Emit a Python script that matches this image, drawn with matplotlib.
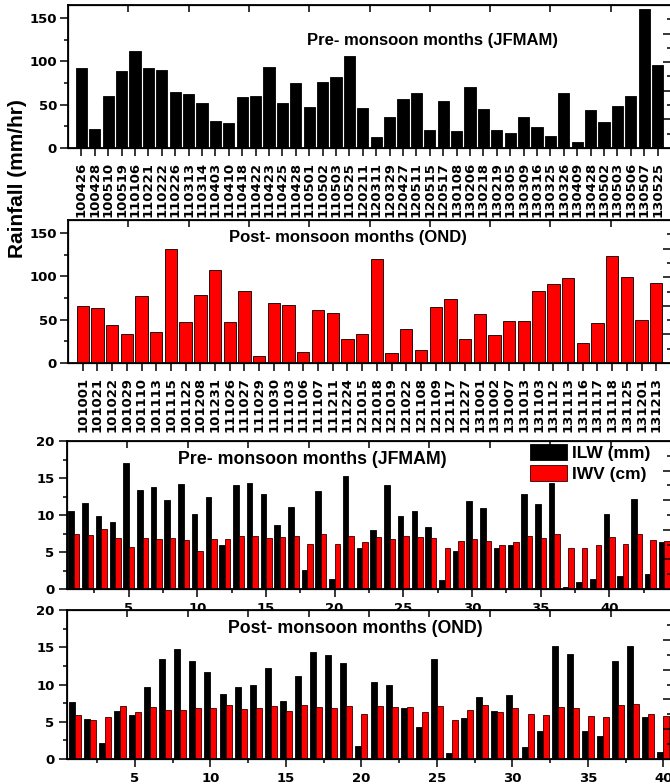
import numpy as np
import matplotlib
matplotlib.use('Agg')
import matplotlib.pyplot as plt
from matplotlib.ticker import MultipleLocator

# rainfall events, pre-monsoon (JFMAM) and post-monsoon (OND)
pre_dates = ['100426', '100428', '100510', '100519', '110106', '110221', '110222', '110226',
             '110313', '110314', '110403', '110410', '110418', '110422', '110423', '110425',
             '110428', '110501', '110502', '110503', '110525', '120211', '120311', '120329',
             '120427', '120511', '120515', '120517', '130108', '130206', '130218', '130219',
             '130305', '130309', '130316', '130325', '130326', '130409', '130428', '130502',
             '130503', '130506', '130507', '130525']
pre_rain = [92, 21.5, 60, 89, 111.5, 92.5, 89.5, 65, 62, 52, 31.5, 29, 58.5, 60, 94, 52,
            75, 47, 76.5, 82, 106, 46.5, 12.5, 36, 56, 63.5, 21, 54, 20, 70, 45, 21,
            17.5, 36, 24.5, 14, 64, 7.5, 44, 29.5, 48.5, 60.5, 160.5, 96]

post_dates = ['101001', '101021', '101022', '101029', '101110', '101113', '101115', '101122',
              '101208', '101231', '111026', '111027', '111029', '111030', '111103', '111106',
              '111107', '111211', '111224', '121015', '121018', '121019', '121022', '121108',
              '121109', '121117', '121227', '131001', '131002', '131007', '131013', '131103',
              '131112', '131113', '131116', '131117', '131118', '131125', '131201', '131213']
post_rain = [65.5, 64, 43.5, 34, 77.5, 35.5, 131, 47.5, 78, 107.5, 47, 83, 8.5, 69, 67, 12.5,
             61, 57.5, 27.5, 33.5, 120, 11.5, 39, 15, 64.5, 74, 27.5, 56.5, 32, 48.5, 49, 83,
             91.5, 98, 23, 46, 123, 99, 50, 92.5]

# ILW (mm) / IWV (cm) for the same events
pre_ilw = [10.6, 11.6, 9.8, 9.0, 17.0, 13.4, 13.8, 12.0, 14.2, 10.1, 12.5, 6.0, 14.1, 14.3, 12.8,
           8.6, 11.1, 2.6, 13.2, 1.3, 15.3, 5.6, 8.0, 14.0, 9.9, 10.6, 8.4, 1.2, 5.1, 11.9,
           11.0, 5.6, 6.0, 12.9, 11.5, 14.3, 0.3, 1.0, 1.4, 10.2, 1.8, 12.1, 2.0, 6.4]
pre_iwv = [7.5, 7.3, 8.1, 6.9, 5.7, 6.9, 6.8, 6.9, 6.6, 5.1, 6.8, 6.8, 7.2, 7.2, 6.9,
           7.0, 7.1, 6.1, 7.4, 6.1, 7.1, 6.4, 7.0, 6.8, 7.2, 7.0, 6.9, 5.6, 6.5, 6.8,
           6.5, 6.0, 6.4, 7.2, 6.9, 7.4, 5.5, 5.6, 5.9, 7.0, 6.1, 7.5, 6.6, 6.5]
post_ilw = [7.7, 5.4, 2.2, 6.5, 5.9, 9.7, 13.4, 14.8, 13.2, 11.7, 8.7, 9.6, 9.9, 12.2, 7.8,
            11.2, 14.4, 13.9, 12.9, 1.7, 10.4, 9.9, 6.8, 4.3, 13.4, 0.8, 5.5, 8.3, 6.5, 8.6,
            1.6, 3.8, 15.2, 14.1, 3.7, 3.1, 13.2, 15.2, 5.6, 0.9]
post_iwv = [5.9, 5.2, 5.7, 7.1, 6.3, 7.0, 6.6, 6.6, 6.9, 6.9, 7.2, 6.7, 6.8, 7.1, 6.5,
            7.2, 7.0, 6.9, 7.1, 6.1, 7.1, 7.0, 7.0, 6.3, 7.1, 5.2, 6.6, 7.2, 6.3, 6.9,
            6.1, 5.9, 7.0, 6.8, 5.8, 5.6, 7.3, 7.4, 6.1, 5.8]

numfont = dict(family='DejaVu Sans', weight='bold', size=9.5)
txtfont = dict(family='Liberation Sans', weight='bold', size=12)

W, H = 670., 784.
fig = plt.figure(figsize=(6.7, 7.84), dpi=100)


def box(left, top, bottom, right=671):
    return [left / W, 1 - bottom / H, (right - left) / W, (bottom - top) / H]


def frame(ax):
    for s in ax.spines.values():
        s.set_linewidth(1.3)
    ax.tick_params(which='both', direction='out', width=1.1)
    ax.tick_params(which='major', length=6)
    ax.tick_params(which='minor', length=3)
    for lab in ax.get_yticklabels():
        lab.set(**numfont)
    # mirrored frame ticks (Origin style)
    top = ax.twiny()
    top.set_xlim(0, 10)
    top.set_xticks(range(1, 10))
    top.tick_params(direction='in', length=5, width=1.1, labeltop=False)
    right = ax.twinx()
    right.set_ylim(0, 10)
    right.set_yticks([2, 4, 6, 8])
    right.set_yticks([1, 3, 5, 7, 9], minor=True)
    right.tick_params(which='major', direction='in', length=6, width=1.1, labelright=False)
    right.tick_params(which='minor', direction='in', length=3, width=1.1)


def rain_panel(ax, dates, vals, color, title, tx, ty):
    x = np.arange(len(dates))
    ax.bar(x, vals, width=0.84, color=color, edgecolor='black', linewidth=0.6)
    ax.set_xlim(-1, len(dates))
    ax.set_ylim(0, 165)
    ax.set_xticks(x)
    ax.set_xticklabels(dates, rotation=90, **numfont)
    ax.yaxis.set_major_locator(MultipleLocator(50))
    ax.yaxis.set_minor_locator(MultipleLocator(25))
    ax.tick_params(axis='x', length=5, pad=4)
    ax.tick_params(axis='y', pad=2)
    frame(ax)
    ax.text(tx, ty, title, transform=ax.transAxes, ha='center', va='center', **txtfont)


def lw_panel(ax, ilw, iwv, title, tx, ty, legend=False):
    x = np.arange(1, len(ilw) + 1)
    ax.bar(x - 0.2, ilw, width=0.4, color='black', edgecolor='black', linewidth=0.6, label='ILW (mm)')
    ax.bar(x + 0.2, iwv, width=0.4, color='#ff0000', edgecolor='#330000', linewidth=0.6, label='IWV (cm)')
    ax.set_xlim(0.5, len(ilw) + 0.5)
    ax.set_ylim(0, 20)
    ax.xaxis.set_major_locator(MultipleLocator(5))
    ax.xaxis.set_minor_locator(MultipleLocator(2.5))
    ax.yaxis.set_major_locator(MultipleLocator(5))
    ax.yaxis.set_minor_locator(MultipleLocator(2.5))
    ax.tick_params(axis='x', which='major', length=4, pad=3)
    ax.tick_params(axis='y', pad=3)
    for lab in ax.get_xticklabels():
        lab.set(**numfont)
    frame(ax)
    ax.text(tx, ty, title, transform=ax.transAxes, ha='center', va='center',
            **dict(txtfont, size=12.8))
    if legend:
        ax.legend(loc='upper left', bbox_to_anchor=(0.767, 0.978), frameon=False,
                  handlelength=2.1, handleheight=1.0, borderpad=0, borderaxespad=0,
                  labelspacing=0.25, handletextpad=0.3,
                  prop=dict(family='Liberation Sans', weight='bold', size=12.5))


ax1 = fig.add_axes(box(68, 5, 148))
ax2 = fig.add_axes(box(68, 220, 363))
ax3 = fig.add_axes(box(67, 441, 589))
ax4 = fig.add_axes(box(67, 610, 759))

rain_panel(ax1, pre_dates, pre_rain, 'black', 'Pre- monsoon months (JFMAM)', 0.605, 0.755)
rain_panel(ax2, post_dates, post_rain, '#ff0000', 'Post- monsoon months (OND)', 0.464, 0.881)
lw_panel(ax3, pre_ilw, pre_iwv, 'Pre- monsoon months (JFMAM)', 0.406, 0.872, legend=True)
lw_panel(ax4, post_ilw, post_iwv, 'Post- monsoon months (OND)', 0.477, 0.879)

fig.text(18 / W, 1 - 179 / H, 'Rainfall (mm/hr)', rotation=90, ha='center', va='center',
         family='Liberation Sans', weight='bold', size=15)

fig.savefig('out.png', dpi=100)
